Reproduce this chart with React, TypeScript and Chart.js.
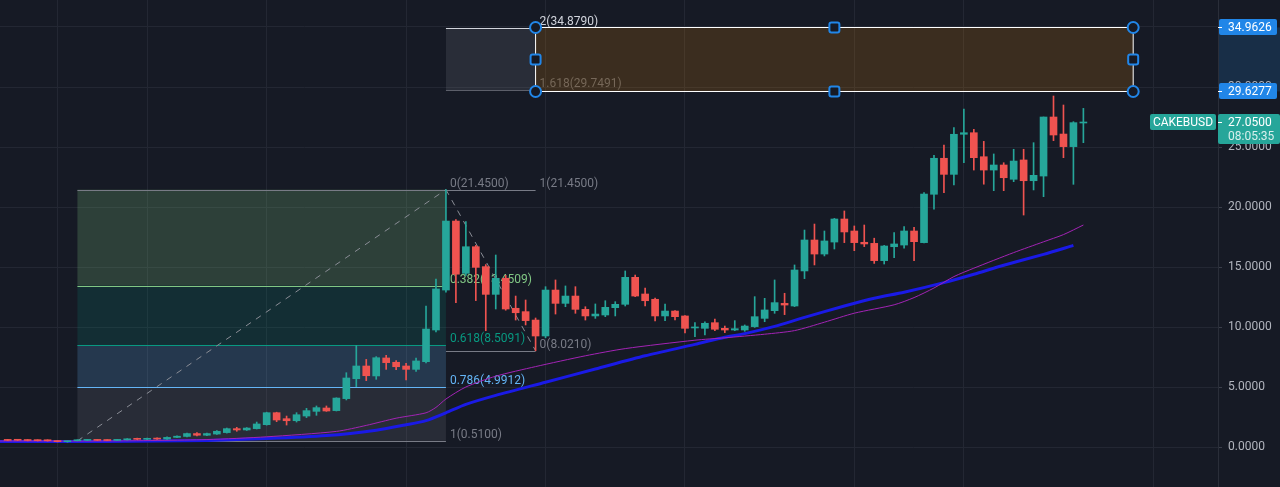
import React, { useEffect, useRef } from 'react';
import { Chart, registerables } from 'chart.js';

Chart.register(...registerables);

// ---------- data ----------
const opens = [0.60,0.60,0.58,0.57,0.57,0.50,0.44,0.52,0.55,0.59,
 0.58,0.55,0.60,0.70,0.64,0.72,0.66,0.80,0.88,1.12,
 0.98,1.08,1.20,1.53,1.42,1.53,1.86,2.86,2.36,2.19,
 2.58,2.97,3.25,3.03,4.03,5.69,6.75,5.92,7.42,7.06,
 6.75,6.47,7.11,9.75,13.08,18.83,14.47,16.69,15.03,12.72,
 14.06,11.56,11.28,10.58,9.25,13.08,11.97,12.58,11.47,10.92,
 11.00,11.61,11.89,14.14,12.75,12.31,10.92,11.33,10.92,9.92,
 9.89,10.36,9.89,9.75,9.75,10.03,10.72,11.36,11.97,11.75,
 14.67,17.25,16.08,17.08,19.00,18.00,17.06,16.97,15.53,16.69,
 16.83,18.00,17.03,21.06,24.06,22.72,26.06,26.19,24.19,23.08,
 23.50,22.31,23.92,22.19,22.58,27.50,26.08,25.03,27.00];
const highs = [0.64,0.63,0.62,0.60,0.60,0.53,0.50,0.60,0.61,0.62,
 0.61,0.63,0.70,0.74,0.75,0.76,0.84,0.93,1.16,1.20,
 1.16,1.36,1.58,1.64,1.62,2.08,2.90,2.90,2.58,2.86,
 3.22,3.42,3.42,4.10,6.19,8.45,7.30,7.53,7.64,7.20,
 6.97,7.40,11.75,14.00,21.45,18.95,18.78,16.80,15.20,16.00,
 14.30,12.58,12.25,10.75,13.36,13.92,13.42,13.36,11.69,11.92,
 12.19,12.11,14.67,14.33,13.25,12.40,11.92,11.36,10.95,10.36,
 10.44,10.67,10.08,10.53,10.17,12.53,12.39,13.92,12.81,15.17,
 18.08,18.58,18.00,19.05,19.67,18.42,18.50,17.40,16.80,17.86,
 18.36,18.30,21.20,24.31,25.17,26.61,28.17,26.47,25.47,24.42,
 23.69,24.81,24.81,25.36,27.50,29.25,28.50,27.11,28.22];
const lows = [0.52,0.53,0.51,0.50,0.49,0.42,0.40,0.51,0.53,0.53,
 0.52,0.54,0.58,0.60,0.62,0.63,0.64,0.78,0.85,0.92,
 0.95,1.04,1.16,1.31,1.38,1.50,1.82,2.11,1.83,2.08,
 2.45,2.64,2.97,3.00,3.92,5.03,5.53,5.64,6.47,6.45,
 5.58,6.30,7.00,9.60,12.90,12.03,14.30,12.20,9.69,11.50,
 11.40,10.58,10.17,8.02,9.10,11.08,11.69,11.14,10.58,10.72,
 10.86,10.92,11.75,12.53,11.75,10.50,10.53,10.58,9.50,9.19,
 9.33,9.69,9.53,9.69,9.64,9.97,10.44,11.14,11.03,11.70,
 14.03,15.17,15.92,16.50,17.03,16.36,16.70,15.30,15.25,15.78,
 16.56,15.53,17.00,19.81,21.19,21.83,23.69,23.08,21.90,21.36,
 21.36,22.11,19.33,21.42,20.86,25.53,24.11,21.89,25.36];
const closes = [0.55,0.56,0.54,0.53,0.52,0.45,0.48,0.57,0.58,0.55,
 0.54,0.61,0.68,0.64,0.72,0.66,0.80,0.90,1.12,0.98,
 1.12,1.31,1.53,1.42,1.58,1.92,2.86,2.25,2.19,2.69,
 3.03,3.28,3.00,4.08,5.75,6.75,5.94,7.44,7.03,6.69,
 6.47,7.17,9.83,13.17,18.83,14.40,16.69,14.97,12.72,14.06,
 11.50,11.19,10.53,9.25,13.08,11.97,12.58,11.47,10.92,11.08,
 11.64,11.89,14.14,12.58,12.19,10.92,11.33,10.86,9.89,10.00,
 10.31,9.81,9.75,9.86,10.08,10.86,11.42,12.03,11.83,14.75,
 17.25,16.08,17.17,19.00,17.92,17.03,16.92,15.53,16.75,16.92,
 18.00,17.11,21.08,24.06,22.72,26.06,26.19,24.11,23.08,23.50,
 22.44,23.83,22.19,22.64,27.50,26.00,25.03,27.03,27.05];

// moving averages
const maSlowIdx = [-1, 0, 10, 20, 26, 32, 37, 40, 42, 44, 46, 49, 54, 59, 64, 69, 72, 74, 77, 80, 84, 87, 90, 94, 97, 100, 104, 107];
const maSlowVal = [0.45, 0.45, 0.46, 0.55, 0.7, 0.95, 1.4, 1.85, 2.2, 2.85, 3.55, 4.3, 5.4, 6.5, 7.6, 8.55, 9.15, 9.45, 10.05, 10.8, 11.75, 12.4, 12.9, 13.7, 14.4, 15.15, 16.05, 16.8];
const maFastIdx = [-1, 0, 10, 20, 26, 33, 36, 39, 42, 43, 44, 46, 49, 53, 58, 62, 69, 72, 76, 79, 82, 85, 89, 91, 93, 95, 97, 101, 104, 106, 108];
const maFastVal = [0.5, 0.5, 0.5, 0.62, 0.85, 1.3, 1.8, 2.4, 2.85, 3.3, 4.0, 5.0, 5.9, 6.7, 7.6, 8.2, 8.9, 9.1, 9.4, 9.7, 10.4, 11.15, 11.85, 12.45, 13.25, 14.2, 14.9, 16.2, 17.1, 17.7, 18.5];

const yTicks = [0, 5, 10, 15, 20, 25, 30, 35];
const xGridIdx = [5, 14, 26, 40, 54, 68, 85, 96, 115];

// fib retracement
const fib1Span = [7, 44];
const fib1Levels = [0, 0.382, 0.618, 0.786, 1];
const fib1Prices = [21.45, 13.4509, 8.5091, 4.9912, 0.51];
const fib1Colors = ['#787b86', '#81c784', '#089981', '#64b5f6', '#787b86'];
const fib1Fills = ['', 'rgba(129,199,132,0.22)', 'rgba(8,153,129,0.16)', 'rgba(100,181,246,0.2)', 'rgba(120,123,134,0.19)'];
// fib extension
const fib2Span = [44, 53];
const fib2Levels = [0, 1, 1.618, 2];
const fib2Prices = [8.021, 21.45, 29.7491, 34.879];
const fib2Colors = ['#787b86', '#787b86', '#5c5f6a', '#d1d4dc'];
// rectangle
const rectSpan = [53, 113];
const rectPrices = [34.9626, 29.6277];

const symbol = 'CAKEBUSD';
const lastPrice = 27.05;
const countdown = '08:05:35';

// ---------- style ----------
const BG = '#161a25';
const UP = '#26a69a';
const DOWN = '#ef5350';
const GRID = '#232733';
const FONT = 'Roboto, "DejaVu Sans", sans-serif';
const X0 = 7.7;
const STEP = 9.96;
const PLOT_W = 1218;

const idx = opens.map((_, i) => i);
const candleColors = idx.map(i => (closes[i] >= opens[i] ? UP : DOWN));

const overlay = {
  id: 'overlay',
  beforeDraw(chart: any) {
    const { ctx, width, height, chartArea } = chart;
    const y = chart.scales.y;
    ctx.save();
    ctx.fillStyle = BG;
    ctx.fillRect(0, 0, width, height);
    const y1 = y.getPixelForValue(rectPrices[0]);
    const y2 = y.getPixelForValue(rectPrices[1]);
    ctx.fillStyle = 'rgba(33,150,243,0.17)';
    ctx.fillRect(chartArea.right, y1, width - chartArea.right, y2 - y1);
    ctx.restore();
  },
  beforeDatasetsDraw(chart: any) {
    const { ctx } = chart;
    const x = chart.scales.x, y = chart.scales.y;
    const px = (v: number) => x.getPixelForValue(v);
    const py = (v: number) => y.getPixelForValue(v);
    const crisp = (v: number) => Math.round(v) + 0.5;
    ctx.save();
    ctx.font = `12px ${FONT}`;
    ctx.textBaseline = 'bottom';
    ctx.textAlign = 'left';
    const a = px(fib1Span[0]), b = px(fib1Span[1]);
    for (let k = 1; k < fib1Prices.length; k++) {
      const t = py(fib1Prices[k - 1]), u = py(fib1Prices[k]);
      ctx.fillStyle = fib1Fills[k];
      ctx.fillRect(a, t, b - a, u - t);
    }
    const c = px(fib2Span[0]), d = px(fib2Span[1]);
    ctx.fillStyle = 'rgba(120,123,134,0.2)';
    ctx.fillRect(c, py(fib2Prices[3]), d - c, py(fib2Prices[2]) - py(fib2Prices[3]));
    ctx.lineWidth = 1;
    fib1Prices.forEach((p, k) => {
      const yy = crisp(py(p));
      ctx.strokeStyle = fib1Colors[k];
      ctx.beginPath(); ctx.moveTo(a, yy); ctx.lineTo(b, yy); ctx.stroke();
      ctx.fillStyle = fib1Colors[k];
      ctx.fillText(`${fib1Levels[k]}(${p.toFixed(4)})`, b + 4, yy - 1);
    });
    fib2Prices.forEach((p, k) => {
      const yy = crisp(py(p));
      ctx.strokeStyle = fib2Colors[k];
      ctx.beginPath(); ctx.moveTo(c, yy); ctx.lineTo(d, yy); ctx.stroke();
      ctx.fillStyle = fib2Colors[k];
      ctx.fillText(`${fib2Levels[k]}(${p.toFixed(4)})`, d + 4, yy - 1);
    });
    ctx.strokeStyle = '#8a8d96';
    ctx.setLineDash([6, 6]);
    ctx.beginPath();
    ctx.moveTo(a, py(fib1Prices[4])); ctx.lineTo(b, py(fib1Prices[0]));
    ctx.moveTo(c, py(fib2Prices[1])); ctx.lineTo(d, py(fib2Prices[0]));
    ctx.stroke();
    ctx.setLineDash([]);
    ctx.restore();
  },
  afterDatasetsDraw(chart: any) {
    const { ctx } = chart;
    const x = chart.scales.x, y = chart.scales.y;
    const l = x.getPixelForValue(rectSpan[0]);
    const r = x.getPixelForValue(rectSpan[1]);
    const t = Math.round(y.getPixelForValue(rectPrices[0])) + 0.5;
    const btm = Math.round(y.getPixelForValue(rectPrices[1])) + 0.5;
    ctx.save();
    ctx.fillStyle = 'rgba(255,152,0,0.16)';
    ctx.fillRect(l, t, r - l, btm - t);
    ctx.strokeStyle = '#ffffff';
    ctx.lineWidth = 1;
    ctx.strokeRect(l, t, r - l, btm - t);
    ctx.lineWidth = 2;
    ctx.strokeStyle = '#2186e8';
    ctx.fillStyle = BG;
    const circles = [[l, t], [r, t], [l, btm], [r, btm]];
    circles.forEach(([cx, cy]) => {
      ctx.beginPath(); ctx.arc(cx, cy, 5.5, 0, Math.PI * 2); ctx.fill(); ctx.stroke();
    });
    const mx = (l + r) / 2, my = (t + btm) / 2;
    const squares = [[mx, t], [mx, btm], [l, my], [r, my]];
    squares.forEach(([cx, cy]) => {
      ctx.beginPath();
      (ctx as any).roundRect(cx - 5, cy - 5, 10, 10, 2);
      ctx.fill(); ctx.stroke();
    });
    ctx.restore();
  },
  afterDraw(chart: any) {
    const { ctx, chartArea } = chart;
    const y = chart.scales.y;
    const left = chartArea.right;
    ctx.save();
    ctx.font = `12px ${FONT}`;
    ctx.textBaseline = 'middle';
    ctx.textAlign = 'left';
    const box = (x0: number, y0: number, w: number, h: number, color: string) => {
      ctx.fillStyle = color;
      ctx.beginPath();
      (ctx as any).roundRect(x0, y0, w, h, 2);
      ctx.fill();
    };
    rectPrices.forEach(p => {
      const yy = Math.round(y.getPixelForValue(p));
      box(left + 1, yy - 8, 58, 16, '#2186e8');
      ctx.fillStyle = '#ffffff';
      ctx.fillText(p.toFixed(4), left + 10, yy + 0.5);
      ctx.fillRect(left, yy, 4, 1);
    });
    const ly = Math.round(y.getPixelForValue(lastPrice));
    box(left, ly - 8, 62, 30, UP);
    ctx.fillStyle = '#ffffff';
    ctx.fillText(lastPrice.toFixed(4), left + 10, ly + 0.5);
    ctx.fillStyle = '#d8f0ed';
    ctx.fillText(countdown, left + 10, ly + 14.5);
    ctx.fillStyle = '#ffffff';
    ctx.fillRect(left, ly, 4, 1);
    box(left - 68, ly - 8, 66, 16, UP);
    ctx.fillStyle = '#ffffff';
    ctx.textAlign = 'center';
    ctx.fillText(symbol, left - 35, ly + 0.5);
    ctx.restore();
  },
};

export default function App() {
  const ref = useRef<HTMLCanvasElement>(null);
  useEffect(() => {
    if (!ref.current) return;
    const xMin = -X0 / STEP;
    const xMax = xMin + PLOT_W / STEP;
    const chart = new Chart(ref.current, {
      type: 'bar',
      data: {
        datasets: [
          {
            type: 'bar',
            label: 'body',
            data: idx.map(i => ({ x: i, y: [opens[i], closes[i]] })) as any,
            backgroundColor: candleColors,
            barThickness: 7,
            minBarLength: 1,
            grouped: false,
            borderWidth: 0,
            order: 1,
          } as any,
          {
            type: 'bar',
            label: 'wick',
            data: idx.map(i => ({ x: i, y: [lows[i], highs[i]] })) as any,
            backgroundColor: candleColors,
            barThickness: 1,
            grouped: false,
            borderWidth: 0,
            order: 2,
          } as any,
          {
            type: 'line',
            label: 'MA fast',
            data: maFastIdx.map((v, k) => ({ x: v, y: maFastVal[k] })),
            borderColor: '#a323b5',
            borderWidth: 1,
            pointRadius: 0,
            tension: 0.25,
            order: 3,
          } as any,
          {
            type: 'line',
            label: 'MA slow',
            data: maSlowIdx.map((v, k) => ({ x: v, y: maSlowVal[k] })),
            borderColor: '#1a1ae6',
            borderWidth: 3,
            pointRadius: 0,
            tension: 0.25,
            order: 4,
          } as any,
        ],
      },
      options: {
        animation: false,
        responsive: false,
        devicePixelRatio: 1,
        layout: { padding: 0 },
        plugins: { legend: { display: false }, tooltip: { enabled: false } },
        scales: {
          x: {
            type: 'linear',
            min: xMin,
            max: xMax,
            offset: false,
            grid: { color: GRID, offset: false, drawTicks: false },
            border: { display: false },
            ticks: { display: false },
            afterBuildTicks: (axis: any) => { axis.ticks = xGridIdx.map(v => ({ value: v })); },
            afterFit: (axis: any) => { axis.height = 0; axis.paddingLeft = 0; axis.paddingRight = 0; },
          },
          y: {
            type: 'linear',
            position: 'right',
            min: (447 - 487) / 12,
            max: 447 / 12,
            beginAtZero: false,
            grid: { color: GRID, tickLength: 4, tickColor: '#3a3e4a' },
            border: { display: true, color: '#2a2e39' },
            ticks: {
              color: '#b2b5be',
              font: { family: FONT, size: 12 },
              padding: 6,
              callback: (v: any) => Number(v).toFixed(4),
            },
            afterBuildTicks: (axis: any) => { axis.ticks = yTicks.map(v => ({ value: v })); },
            afterFit: (axis: any) => { axis.width = 62; axis.paddingTop = 0; axis.paddingBottom = 0; },
          },
        },
      } as any,
      plugins: [overlay],
    });
    return () => chart.destroy();
  }, []);
  return (
    <div style={{ position: 'fixed', left: 0, top: 0, width: 1280, height: 487, background: BG }}>
      <canvas ref={ref} width={1280} height={487} style={{ display: 'block', width: 1280, height: 487 }} />
    </div>
  );
}
